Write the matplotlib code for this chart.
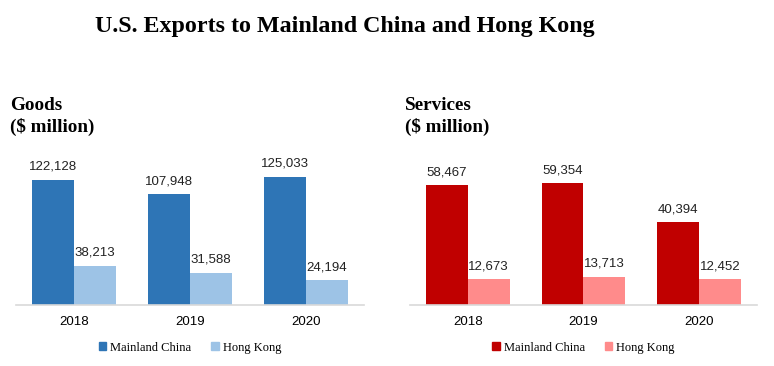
import matplotlib.pyplot as plt
import numpy as np
from matplotlib.patches import Patch

years = ["2018", "2019", "2020"]
goods_china = [122128, 107948, 125033]
goods_hk = [38213, 31588, 24194]
services_china = [58467, 59354, 40394]
services_hk = [12673, 13713, 12452]
series_names = ["Mainland China", "Hong Kong"]

SERIF = "Liberation Serif"
SANS = "Liberation Sans"


def draw_panel(fig, rect, china, hk, colors, ymax):
    ax = fig.add_axes(rect)
    x = np.arange(len(years))
    width = 0.362
    bars_c = ax.bar(x - width / 2, china, width, color=colors[0])
    bars_h = ax.bar(x + width / 2, hk, width, color=colors[1])
    for bars in (bars_c, bars_h):
        ax.bar_label(bars, labels=[f"{v:,}" for v in bars.datavalues],
                     padding=5, fontsize=9.5, family=SANS, color="#222222")
    ax.set_xlim(-0.5, len(years) - 0.5)
    ax.set_ylim(0, ymax)
    ax.set_xticks(x, years, family=SANS, fontsize=9.5)
    ax.tick_params(axis="x", length=0, pad=8)
    ax.set_yticks([])
    for side in ("top", "left", "right"):
        ax.spines[side].set_visible(False)
    ax.spines["bottom"].set_color("#d9d9d9")
    ax.spines["bottom"].set_linewidth(1.2)
    handles = [Patch(color=c, label=n) for c, n in zip(colors, series_names)]
    ax.legend(handles=handles, loc="upper center", bbox_to_anchor=(0.5, -0.165),
              ncol=2, frameon=False, prop={"family": SERIF, "size": 9},
              handlelength=0.6, handleheight=0.6, handletextpad=0.3,
              columnspacing=1.6)
    return ax


fig = plt.figure(figsize=(7.74, 3.66), dpi=100)
fig.text(0.446, 0.913, "U.S. Exports to Mainland China and Hong Kong",
         ha="center", va="baseline", family=SERIF, weight="bold", fontsize=17.3)

draw_panel(fig, [0.0207, 0.1667, 0.4496, 0.4235],
           goods_china, goods_hk, ["#2E75B6", "#9DC3E6"], 151000)
draw_panel(fig, [0.5297, 0.1667, 0.4483, 0.4235],
           services_china, services_hk, ["#C00000", "#FF8B8B"], 75500)

for x0, head in ((0.013, "Goods"), (0.523, "Services")):
    fig.text(x0, 0.699, head, ha="left", va="baseline",
             family=SERIF, weight="bold", fontsize=13.8)
    fig.text(x0, 0.639, "($ million)", ha="left", va="baseline",
             family=SERIF, weight="bold", fontsize=13.8)

fig.savefig("out.png", dpi=100)
